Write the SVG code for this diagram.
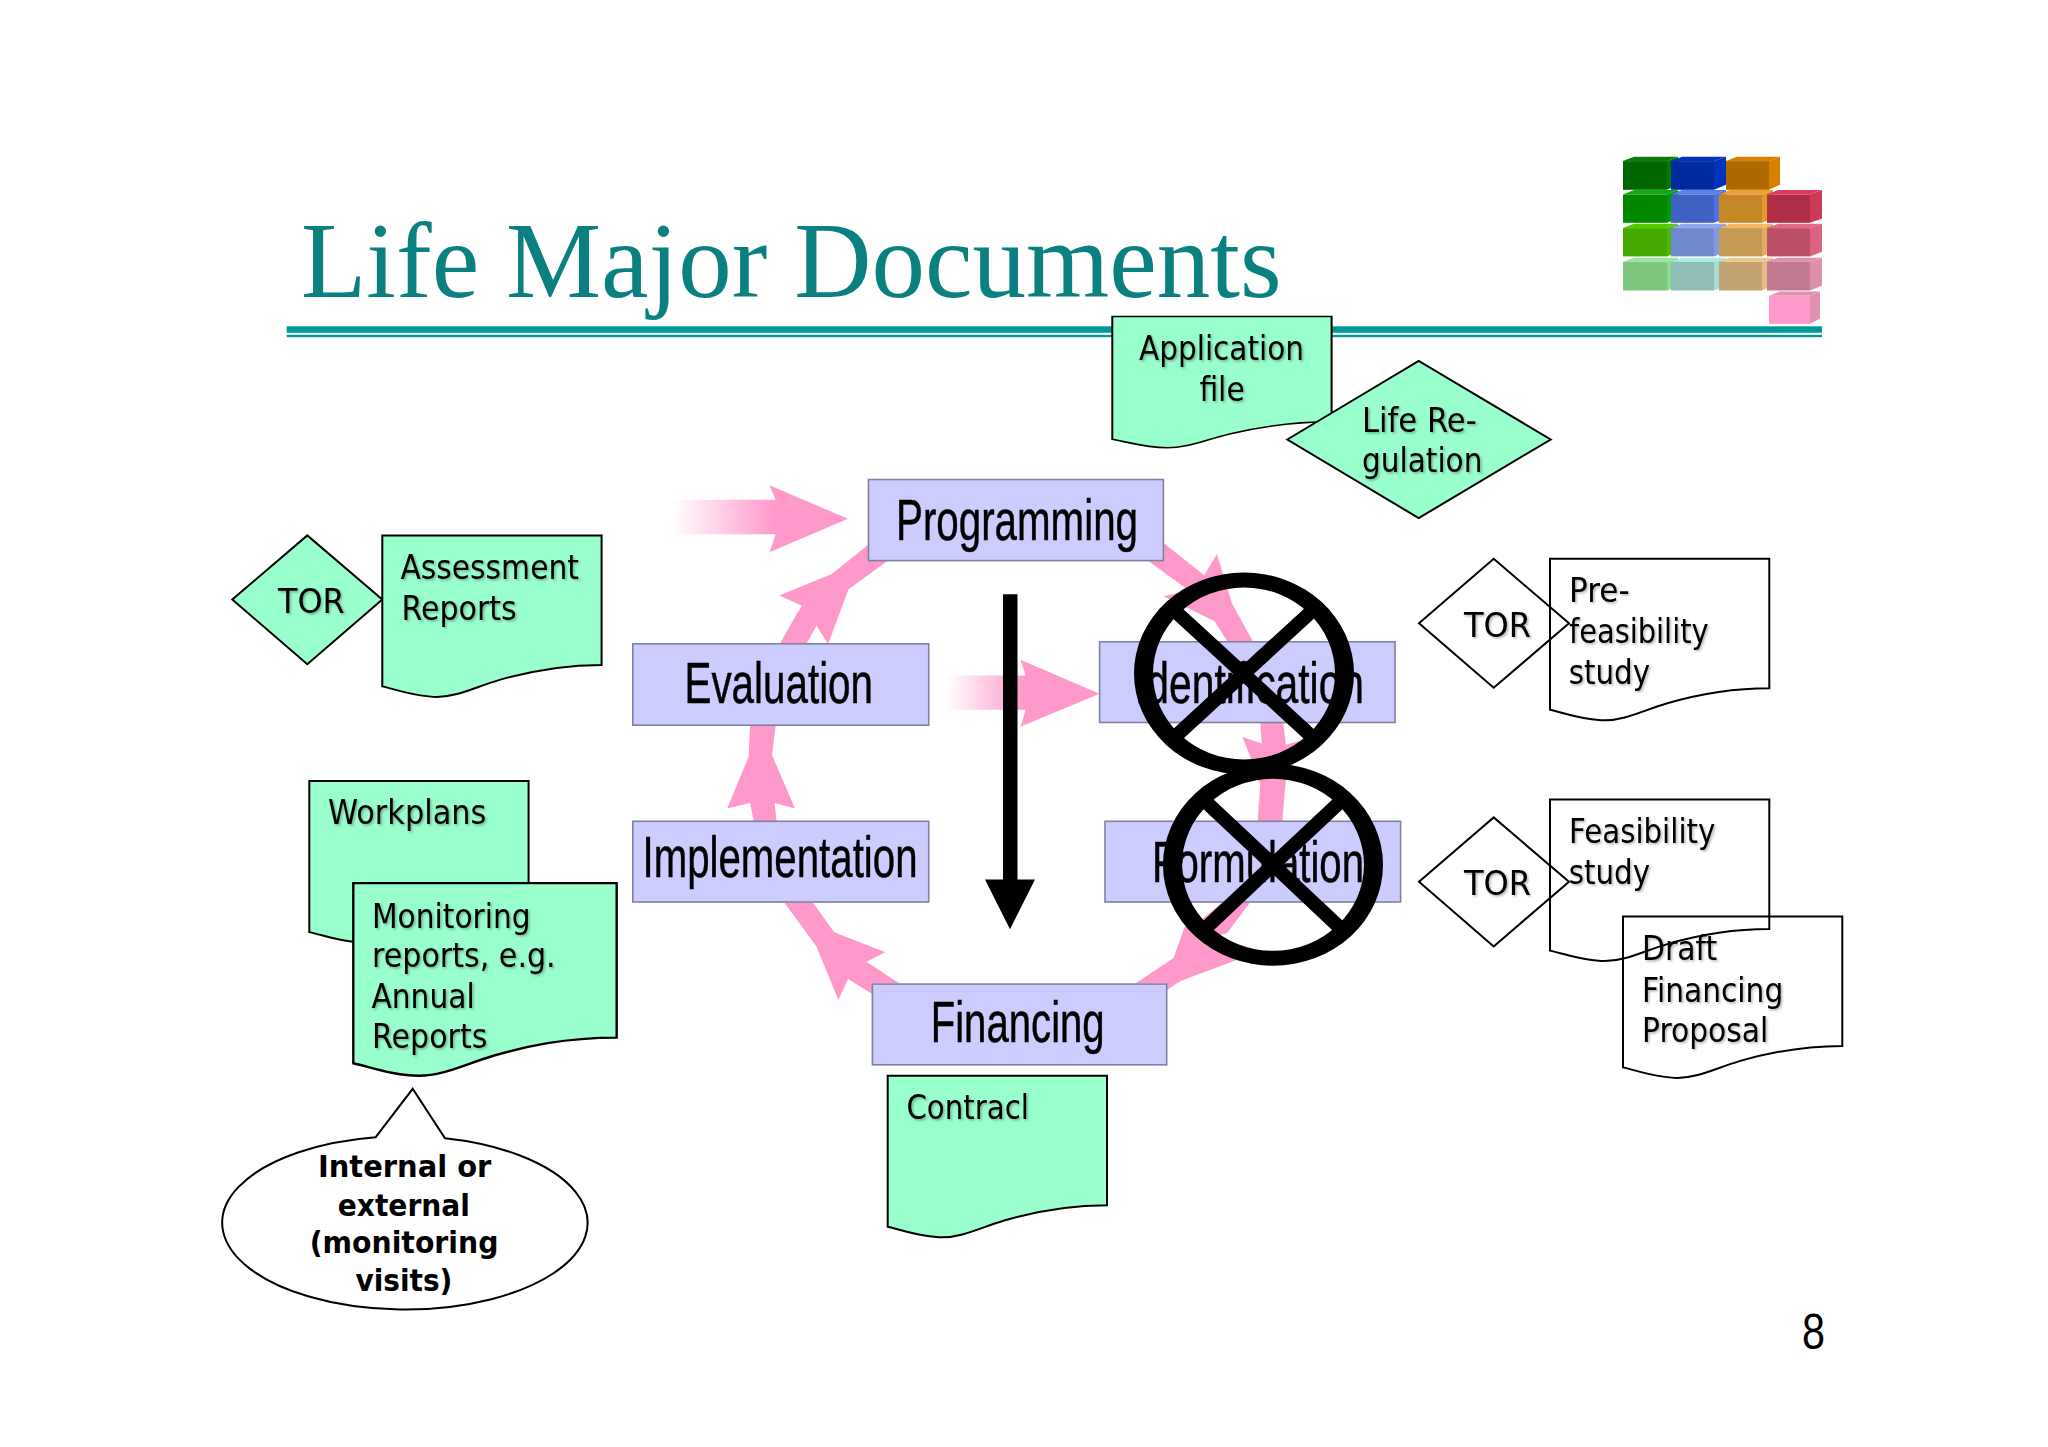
<svg xmlns="http://www.w3.org/2000/svg" width="2048" height="1447" viewBox="0 0 2048 1447">
<style>
.proc{fill:#ccccff;stroke:#80809f;stroke-width:1.6}
.pt{font-family:"Liberation Sans",Arial,sans-serif;font-size:58px;fill:#000;stroke:#000;stroke-width:.5}
.dt{font-family:"DejaVu Sans",Verdana,sans-serif;font-size:33px;fill:#000;filter:url(#ts)}
.bt{font-family:"DejaVu Sans",Verdana,sans-serif;font-size:30px;font-weight:bold;fill:#000}
.g{fill:#99ffcc;stroke:#000;stroke-width:2;vector-effect:non-scaling-stroke}
.w{fill:none;stroke:#000;stroke-width:2;vector-effect:non-scaling-stroke}
.pink{fill:#ff99cc}
</style>
<defs>
<path id="doc" d="M0 0H219.3V129.5C175.4 129.5 143.6 136.9 117.3 144.5C91 152.5 74.6 161.5 54.8 161.5C35 161.5 17 155 0 151Z"/>
<filter id="ts" x="-5%" y="-20%" width="110%" height="140%"><feDropShadow dx="1.5" dy="1.5" stdDeviation="0.8" flood-color="#000" flood-opacity="0.3"/></filter>
<linearGradient id="fadeA" gradientUnits="userSpaceOnUse" x1="673" y1="0" x2="775" y2="0"><stop offset="0" stop-color="#ff99cc" stop-opacity="0"/><stop offset="1" stop-color="#ff99cc"/></linearGradient>
<linearGradient id="fadeB" gradientUnits="userSpaceOnUse" x1="946" y1="0" x2="1025" y2="0"><stop offset="0" stop-color="#ff99cc" stop-opacity="0"/><stop offset="1" stop-color="#ff99cc"/></linearGradient>
</defs>
<rect width="2048" height="1447" fill="#fff"/>
<g transform="translate(0 .8)">
<g id="blocks">
<g id="r1"><path fill="#0a7d0a" d="M1623 160.3L1634 156H1678L1667 160.3Z"/><path fill="#007a00" d="M1667 160.3L1678 156V184L1667 189Z"/><rect fill="#006600" x="1623" y="160.3" width="44" height="28.7"/>
<path fill="#0033bb" d="M1671 160.3L1682 156H1726L1714 160.3Z"/><path fill="#0033bb" d="M1714 160.3L1726 156V184L1714 189Z"/><rect fill="#002b9e" x="1671" y="160.3" width="43" height="28.7"/>
<path fill="#d98000" d="M1726 160.3L1737 156H1780L1769 160.3Z"/><path fill="#d98000" d="M1769 160.3L1780 156V184L1769 189Z"/><rect fill="#ad6a00" x="1726" y="160.3" width="43" height="28.7"/></g>
<g id="r2"><path fill="#11aa11" d="M1623 193.7L1634 189.3H1678L1667 193.7Z"/><path fill="#009900" d="M1667 193.7L1678 189.3V218L1667 222Z"/><rect fill="#008800" x="1623" y="193.7" width="44" height="28.3"/>
<path fill="#5a80ee" d="M1671 193.7L1682 189.3H1726L1714 193.7Z"/><path fill="#4f70dd" d="M1714 193.7L1726 189.3V218L1714 222Z"/><rect fill="#3f62c4" x="1671" y="193.7" width="43" height="28.3"/>
<path fill="#f0a030" d="M1719 193.7L1730 189.3H1773L1762 193.7Z"/><path fill="#e09a2a" d="M1762 193.7L1773 189.3V218L1762 222Z"/><rect fill="#c58626" x="1719" y="193.7" width="43" height="28.3"/>
<path fill="#e03a60" d="M1767 193.7L1778 189.3H1822L1810 193.7Z"/><path fill="#cc3a58" d="M1810 193.7L1822 189.3V218L1810 222Z"/><rect fill="#ae2e46" x="1767" y="193.7" width="43" height="28.3"/></g>
<g id="r3"><path fill="#55cc00" d="M1623 227.3L1634 223H1678L1667 227.3Z"/><path fill="#4fb800" d="M1667 227.3L1678 223V251L1667 255.6Z"/><rect fill="#44aa00" x="1623" y="227.3" width="44" height="28.3"/>
<path fill="#8ca8ee" d="M1671 227.3L1682 223H1726L1714 227.3Z"/><path fill="#8099e0" d="M1714 227.3L1726 223V251L1714 255.6Z"/><rect fill="#7088cc" x="1671" y="227.3" width="43" height="28.3"/>
<path fill="#f0b860" d="M1719 227.3L1730 223H1773L1762 227.3Z"/><path fill="#e0ad5c" d="M1762 227.3L1773 223V251L1762 255.6Z"/><rect fill="#c59a55" x="1719" y="227.3" width="43" height="28.3"/>
<path fill="#e06a88" d="M1767 227.3L1778 223H1822L1810 227.3Z"/><path fill="#dc6480" d="M1810 227.3L1822 223V251L1810 255.6Z"/><rect fill="#bb5068" x="1767" y="227.3" width="43" height="28.3"/></g>
<g id="r4"><path fill="#99e599" d="M1623 261L1634 257H1678L1667 261Z"/><path fill="#90dd90" d="M1667 261L1678 257V285L1667 289.7Z"/><rect fill="#7fc77f" x="1623" y="261" width="44" height="28.7"/>
<path fill="#aaeedd" d="M1671 261L1682 257H1726L1714 261Z"/><path fill="#a5dcd8" d="M1714 261L1726 257V285L1714 289.7Z"/><rect fill="#90bcb8" x="1671" y="261" width="43" height="28.7"/>
<path fill="#eec88a" d="M1719 261L1730 257H1773L1762 261Z"/><path fill="#e5bd80" d="M1762 261L1773 257V285L1762 289.7Z"/><rect fill="#c5a273" x="1719" y="261" width="43" height="28.7"/>
<path fill="#e090aa" d="M1767 261L1778 257H1822L1810 261Z"/><path fill="#e090aa" d="M1810 261L1822 257V285L1810 289.7Z"/><rect fill="#c27a90" x="1767" y="261" width="43" height="28.7"/></g>
<g id="r5"><path fill="#e090b0" d="M1769 295L1780 290.7H1820L1810 295Z"/><path fill="#e090b0" d="M1810 295L1820 290.7V318L1810 323Z"/><rect fill="#ff99cc" x="1769" y="295" width="41" height="28"/></g>
</g>
<g id="title-rule">
<rect x="286.7" y="325.5" width="1535.3" height="6.5" fill="#009999"/>
<rect x="286.7" y="334" width="1535.3" height="2.4" fill="#009999"/>
</g>
<text id="title" x="301" y="296.7" font-family="'Liberation Serif','Times New Roman',serif" font-size="107" fill="#0b8080">Life Major Documents</text>
<g id="connectors">
<g transform="translate(620 450) scale(.5102 .3827)" class="pink">
<polygon points="313,505 345,430 357,405 312,378 415,322 487,245 525,287 448,362 408,505 385,457 365,505"/>
<polygon points="255,717 252,800 210,935 255,920 262,968 307,968 303,920 343,935 298,795 305,717"/>
<polygon points="322,1180 378,1180 420,1258 520,1310 483,1335 548,1392 495,1392 495,1420 447,1380 428,1435 385,1295"/>
<polygon points="1010,1392 1085,1325 1105,1250 1125,1195 1140,1225 1180,1180 1235,1180 1190,1260 1165,1270 1210,1330 1100,1385 1070,1410 1070,1392"/>
<polygon points="1255,710 1258,765 1220,748 1240,815 1255,870 1250,968 1298,968 1305,860 1310,850 1340,755 1305,768 1300,710"/>
<polygon points="1065,240 1145,325 1170,270 1200,400 1240,497 1190,497 1165,445 1065,380 1115,365 1035,287"/>
</g>
<path fill="url(#fadeA)" d="M673 499H775.6L769.5 484.4L848 518L769.5 551.4L775.6 533.4H673Z"/>
<path fill="url(#fadeB)" d="M946 674.6H1025.6L1020.5 659L1099.6 693L1020.5 726L1025.6 709H946Z"/>
<path id="time-arrow" fill="#000" d="M1003 593.5H1017.5V878.6H1035L1010 928.4L985 878.6H1003Z"/>
</g>
<g id="programming"><rect class="proc" x="868.5" y="478.7" width="294.9" height="81.1"/><text class="pt" x="896" y="538.8" textLength="242" lengthAdjust="spacingAndGlyphs">Programming</text></g>
<g id="evaluation"><rect class="proc" x="632.8" y="643" width="295.9" height="81.4"/><text class="pt" x="684.5" y="702.6" textLength="188.5" lengthAdjust="spacingAndGlyphs">Evaluation</text></g>
<g id="identification"><rect class="proc" x="1099.6" y="641" width="295.4" height="80.7"/><text class="pt" x="1135" y="702.6" textLength="229" lengthAdjust="spacingAndGlyphs">Identification</text></g>
<g id="implementation"><rect class="proc" x="632.8" y="820.5" width="295.9" height="80.7"/><text class="pt" x="642.5" y="876.7" textLength="275" lengthAdjust="spacingAndGlyphs">Implementation</text></g>
<g id="formulation"><rect class="proc" x="1105" y="820.5" width="295.6" height="80.7"/><text class="pt" x="1152" y="881.3" textLength="212" lengthAdjust="spacingAndGlyphs">Formulation</text></g>
<g id="financing"><rect class="proc" x="872.4" y="983.3" width="294.3" height="80.7"/><text class="pt" x="930.7" y="1041.7" textLength="174" lengthAdjust="spacingAndGlyphs">Financing</text></g>
<g id="cross-1"><path fill="#000" fill-rule="evenodd" d="M1134 672.7a110 101 0 1 0 220 0a110 101 0 1 0 -220 0ZM1153 672.7a91 86 0 1 1 182 0a91 86 0 1 1 -182 0Z"/><path stroke="#000" stroke-width="14" d="M1176 611L1311 735M1311 611L1176 735"/></g>
<g id="cross-2"><path fill="#000" fill-rule="evenodd" d="M1163 864a110 101 0 1 0 220 0a110 101 0 1 0 -220 0ZM1182 864a91 86 0 1 1 182 0a91 86 0 1 1 -182 0Z"/><path stroke="#000" stroke-width="14" d="M1207 802L1339 926M1339 802L1207 926"/></g>
<g id="tor-left"><polygon class="g" points="232.3,598.7 307.3,534.6 382.3,598.7 307.3,663.5"/><text class="dt" x="278" y="612.5" textLength="66.7" lengthAdjust="spacingAndGlyphs">TOR</text></g>
<g id="assessment"><use href="#doc" class="g" x="382.3" y="534.6"/><text class="dt" x="400.4" y="578.4" textLength="178.6" lengthAdjust="spacingAndGlyphs">Assessment</text><text class="dt" x="401.4" y="619" textLength="115.3" lengthAdjust="spacingAndGlyphs">Reports</text></g>
<g id="workplans"><use href="#doc" class="g" x="309.3" y="780.3"/><text class="dt" x="328" y="823.6" textLength="158.4" lengthAdjust="spacingAndGlyphs">Workplans</text></g>
<g id="monitoring"><use href="#doc" class="g" transform="translate(353.3 882.3) scale(1.201 1.193)"/><text class="dt" x="372" y="926.8" textLength="158.7" lengthAdjust="spacingAndGlyphs">Monitoring</text><text class="dt" x="372" y="966" textLength="183.7" lengthAdjust="spacingAndGlyphs">reports, e.g.</text><text class="dt" x="371.4" y="1007.4" textLength="103.3" lengthAdjust="spacingAndGlyphs">Annual</text><text class="dt" x="372" y="1047.4" textLength="115.4" lengthAdjust="spacingAndGlyphs">Reports</text></g>
<g id="callout"><path fill="#fff" stroke="#000" stroke-width="2" d="M375.7 1136.4L412.7 1088L445 1137.4A182.7 86.7 0 1 1 375.7 1136.4Z"/><text class="bt" x="318" y="1176.4" textLength="173.4" lengthAdjust="spacingAndGlyphs">Internal or</text><text class="bt" x="337.7" y="1214.8" textLength="132.3" lengthAdjust="spacingAndGlyphs">external</text><text class="bt" x="309.7" y="1252.6" textLength="188.7" lengthAdjust="spacingAndGlyphs">(monitoring</text><text class="bt" x="355.4" y="1290" textLength="97" lengthAdjust="spacingAndGlyphs">visits)</text></g>
<g id="application"><use href="#doc" class="g" transform="translate(1112.3 315.7) scale(1 .813)"/><text class="dt" x="1139" y="359.3" textLength="165" lengthAdjust="spacingAndGlyphs">Application</text><text class="dt" x="1199.4" y="400" textLength="45.3" lengthAdjust="spacingAndGlyphs">file</text></g>
<g id="life-regulation"><polygon class="g" points="1287.3,438.7 1418.7,360 1550.7,438.7 1418.7,517.3"/><text class="dt" x="1362" y="431" textLength="114.7" lengthAdjust="spacingAndGlyphs">Life Re-</text><text class="dt" x="1362" y="471.7" textLength="120.4" lengthAdjust="spacingAndGlyphs">gulation</text></g>
<g id="contract"><use href="#doc" class="g" x="887.7" y="1075"/><text class="dt" x="906.4" y="1118.3" textLength="122.6" lengthAdjust="spacingAndGlyphs">Contracl</text></g>
<g id="tor-1"><polygon class="w" points="1419,622.5 1493.7,558 1569,622.5 1493.7,687"/><text class="dt" x="1464" y="636" textLength="67" lengthAdjust="spacingAndGlyphs">TOR</text></g>
<g id="pre-feasibility"><use href="#doc" class="w" x="1550" y="558"/><text class="dt" x="1569" y="601.4" textLength="60.6" lengthAdjust="spacingAndGlyphs">Pre-</text><text class="dt" x="1569" y="642.3" textLength="139.6" lengthAdjust="spacingAndGlyphs">feasibility</text><text class="dt" x="1568.7" y="683" textLength="81.3" lengthAdjust="spacingAndGlyphs">study</text></g>
<g id="tor-2"><polygon class="w" points="1419,881 1493.7,816.6 1569,881 1493.7,945.6"/><text class="dt" x="1464" y="894.3" textLength="67" lengthAdjust="spacingAndGlyphs">TOR</text></g>
<g id="feasibility"><use href="#doc" class="w" x="1550" y="798.8"/><text class="dt" x="1569" y="842.3" textLength="146.3" lengthAdjust="spacingAndGlyphs">Feasibility</text><text class="dt" x="1568.7" y="883" textLength="81.3" lengthAdjust="spacingAndGlyphs">study</text></g>
<g id="draft"><use href="#doc" class="w" x="1623" y="915.6"/><text class="dt" x="1642" y="959.4" textLength="75.3" lengthAdjust="spacingAndGlyphs">Draft</text><text class="dt" x="1642" y="1001.4" textLength="141.3" lengthAdjust="spacingAndGlyphs">Financing</text><text class="dt" x="1642" y="1041" textLength="126.3" lengthAdjust="spacingAndGlyphs">Proposal</text></g>
<text id="page" x="1802" y="1348" font-family="'Liberation Sans',Arial,sans-serif" font-size="50" textLength="23" lengthAdjust="spacingAndGlyphs" fill="#000">8</text>
</g>
</svg>
